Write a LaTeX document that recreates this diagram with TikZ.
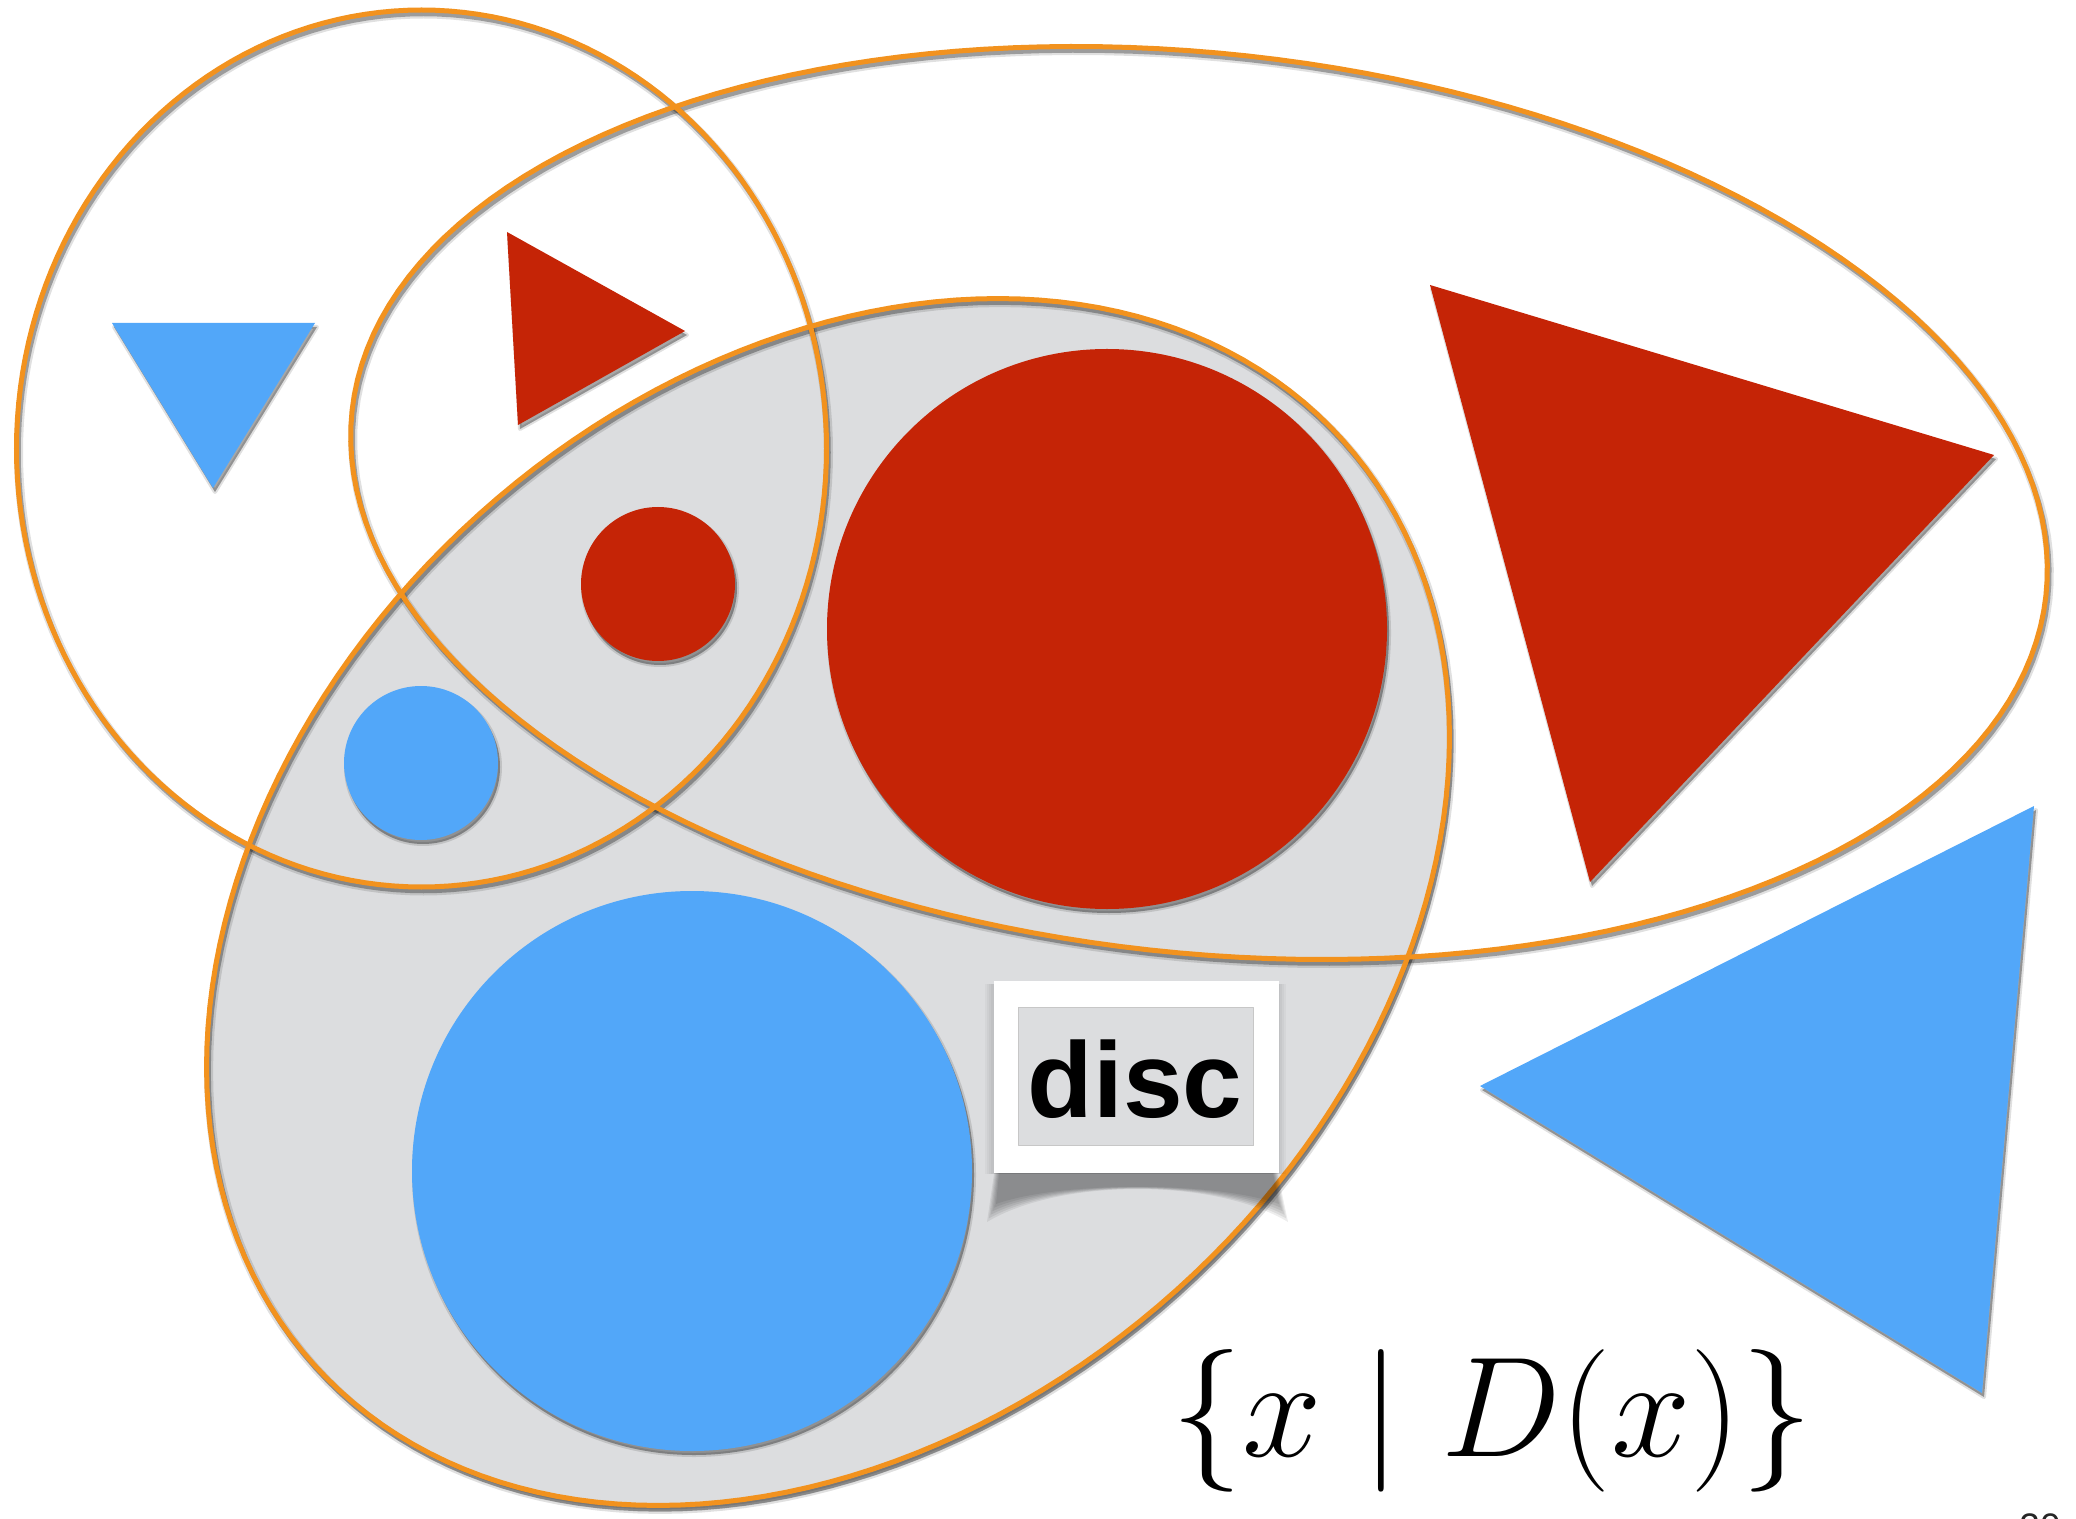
\documentclass[tikz,border=0pt]{standalone}
\usepackage{fontspec}
\newfontfamily\helv{Liberation Sans}
\definecolor{orng}{RGB}{242,146,30}
\definecolor{setgrey}{RGB}{220,221,223}
\definecolor{shblue}{RGB}{82,167,249}
\definecolor{shred}{RGB}{197,36,6}
\tikzset{
  ringline/.style={draw=orng, line width=0.05cm},
  ringshadowA/.style={draw=black, opacity=0.12, line width=0.09cm},
  ringshadowB/.style={draw=black, opacity=0.3, line width=0.045cm},
  fillshadowA/.style={fill=black, opacity=0.12, draw=black, draw opacity=0.12, line width=0.04cm},
  fillshadowB/.style={fill=black, opacity=0.25},
  curlshadow/.style={fill=black, opacity=0.07},
}
\begin{document}
\begin{tikzpicture}[x=0.01cm,y=-0.01cm, line join=round]
\useasboundingbox[fill=white] (0,0) rectangle (2076,1519);
% ellipse paths
\def\ellA{plot[variable=\t,domain=0:360,samples=181] ({421.5+405*cos(\t)},{448.5+438.5*sin(\t)}) -- cycle}
\def\ellB{plot[variable=\t,domain=0:360,samples=181] ({1199+852*cos(\t)*cos(6.24)-449.7*sin(\t)*sin(6.24)},{503+852*cos(\t)*sin(6.24)+449.7*sin(\t)*cos(6.24)}) -- cycle}
\def\ellC{plot[variable=\t,domain=0:360,samples=181] ({828+691.6*cos(\t)*cos(-41.93)-521.6*sin(\t)*sin(-41.93)},{902+691.6*cos(\t)*sin(-41.93)+521.6*sin(\t)*cos(-41.93)}) -- cycle}
% filled shape paths
\def\triBs{(112,323) -- (315,323) -- (213,488) -- cycle}
\def\triRs{(507,232) -- (685,331) -- (518,425) -- cycle}
\def\triRb{(1430,285) -- (1994,455) -- (1590,882) -- cycle}
\def\triBb{(1480,1086) -- (2034,806) -- (1982,1393) -- cycle}
\def\cirRs{(658,584) circle [radius=77]}
\def\cirBs{(421,763) circle [radius=77]}
\def\cirRb{(1107,629) circle [radius=280]}
\def\cirBb{(692,1171) circle [radius=280]}

% grey set (filled ellipse)
\begin{scope}[shift={(2,4)}]
  \fill[fillshadowA] \ellC;
\end{scope}
\fill[setgrey] \ellC;

% shapes with shadows
\begin{scope}[shift={(2,4)}]
  \foreach \p in {\triBs,\triRs,\triRb,\triBb,\cirRs,\cirBs,\cirRb,\cirBb}{
    \path[fillshadowA] \p;
    \path[fillshadowB] \p;
  }
\end{scope}
\fill[shblue] \triBs;
\fill[shred] \triRs;
\fill[shred] \triRb;
\fill[shblue] \triBb;
\fill[shred] \cirRs;
\fill[shblue] \cirBs;
\fill[shred] \cirRb;
\fill[shblue] \cirBb;

% orange rings with shadows
\begin{scope}[shift={(2,4)}]
  \foreach \p in {\ellC,\ellA,\ellB}{
    \draw[ringshadowA] \p;
    \draw[ringshadowB] \p;
  }
\end{scope}
\draw[ringline] \ellC;
\draw[ringline] \ellA;
\draw[ringline] \ellB;

% disc box with soft curled shadow
\foreach \d in {0,3,6,9,12,15}{
  \fill[curlshadow] (996+\d*0.3,1160) -- (1275-\d*0.3,1160) -- (1288-\d*0.6,1222-\d*1.2) .. controls (1215,1178+\d*0.2) and (1060,1178+\d*0.2) .. (987+\d*0.6,1222-\d*1.2) -- cycle;
}
\foreach \d in {0,2,4,6}{
  \fill[black, opacity=0.03] (993-8+\d,980+4) rectangle (1278+8-\d,1172+2);
}
\node[draw=none, fill=white, minimum width=2.85cm, minimum height=1.92cm, inner sep=0pt, anchor=north west] (box) at (993,980) {};
\node[draw=black!22, line width=0.3pt, fill=setgrey, minimum width=2.35cm, minimum height=1.38cm, inner sep=0pt, anchor=north west] (inbox) at (1018,1007) {};
\node[anchor=base, inner sep=0pt] (disc) at (1135,1117) {\helv\bfseries\fontsize{30.5}{32}\selectfont disc};

% set-builder label
\node[anchor=base, inner sep=0pt, scale=1.63] (setlabel) at (1492,1456) {\fontsize{24.88}{28}\selectfont $\{x \mid D(x)\}$};
% page number (cut off at the bottom)
\node[anchor=base, inner sep=0pt, text=black!85] (pagenum) at (2040,1539) {\helv\fontsize{10.5}{12}\selectfont 20};
\end{tikzpicture}
\end{document}
